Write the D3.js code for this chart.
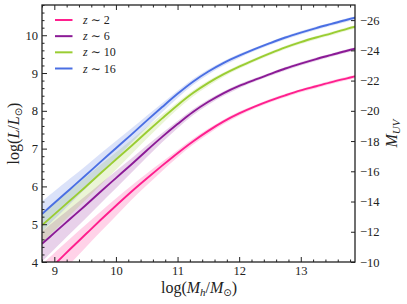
<!DOCTYPE html>
<html>
<head>
<meta charset="utf-8">
<script src="https://cdn.jsdelivr.net/npm/d3@7"></script>
<style>
  html, body { margin: 0; padding: 0; background: #fff; }
  svg { display: block; }
  text { font-family: "Liberation Serif", "DejaVu Serif", serif; fill: #222; }
</style>
</head>
<body>
<svg id="chart" width="407" height="304"></svg>
<script>
// ---- data ----
const logMh = [8.8, 9.0, 9.25, 9.5, 9.75, 10.0, 10.25, 10.5, 10.75, 11.0, 11.25, 11.5, 11.75, 12.0, 12.25, 12.5, 12.75, 13.0, 13.25, 13.5, 13.75, 13.9];
const lumZ2  = [3.61, 3.93, 4.33, 4.72, 5.11, 5.49, 5.86, 6.21, 6.55, 6.88, 7.19, 7.47, 7.72, 7.93, 8.11, 8.27, 8.41, 8.54, 8.65, 8.76, 8.86, 8.92];
const lumZ6  = [4.48, 4.77, 5.13, 5.49, 5.86, 6.22, 6.58, 6.95, 7.31, 7.65, 7.97, 8.24, 8.47, 8.66, 8.82, 8.97, 9.12, 9.25, 9.37, 9.48, 9.59, 9.65];
const lumZ10 = [4.97, 5.26, 5.62, 5.98, 6.35, 6.71, 7.07, 7.44, 7.80, 8.15, 8.47, 8.74, 8.97, 9.17, 9.35, 9.52, 9.68, 9.82, 9.94, 10.05, 10.17, 10.23];
const lumZ16 = [5.27, 5.56, 5.92, 6.28, 6.65, 7.01, 7.37, 7.74, 8.10, 8.45, 8.77, 9.04, 9.27, 9.46, 9.63, 9.79, 9.94, 10.07, 10.19, 10.30, 10.41, 10.47];
const spreadUp   = [0.33, 0.31, 0.28, 0.25, 0.22, 0.19, 0.16, 0.13, 0.10, 0.08, 0.07, 0.06, 0.05, 0.05, 0.04, 0.04, 0.04, 0.04, 0.04, 0.04, 0.04, 0.04];
const spreadDown = [0.46, 0.43, 0.39, 0.35, 0.31, 0.27, 0.22, 0.18, 0.14, 0.11, 0.09, 0.08, 0.07, 0.06, 0.05, 0.05, 0.05, 0.05, 0.05, 0.05, 0.05, 0.05];
const seriesNames = ["2", "6", "10", "16"];
const seriesColors = ["#ff1f8e", "#8b1a96", "#9acd32", "#4a6fe3"];
const xTicks = [9, 10, 11, 12, 13];
const yTicks = [4, 5, 6, 7, 8, 9, 10];
const magTicks = [-10, -12, -14, -16, -18, -20, -22, -24, -26];

const series = [lumZ2, lumZ6, lumZ10, lumZ16];

// ---- layout ----
const svg = d3.select("#chart");
const L = 42, R = 355, T = 5, B = 262;
const x = d3.scaleLinear().domain([8.8, 13.88]).range([L, R]);
const y = d3.scaleLinear().domain([4, 10.8]).range([B, T]);
const yMag = d3.scaleLinear().domain([-10, -27]).range([B, T]);

svg.append("defs").append("clipPath").attr("id", "clip")
  .append("rect").attr("x", L).attr("y", T).attr("width", R - L).attr("height", B - T);

const plot = svg.append("g").attr("clip-path", "url(#clip)");
const curve = d3.curveCatmullRom.alpha(0.5);

// bands
series.forEach((s, i) => {
  const area = d3.area()
    .x((d, j) => x(logMh[j]))
    .y0((d, j) => y(d - spreadDown[j]))
    .y1((d, j) => y(d + spreadUp[j]))
    .curve(curve);
  plot.append("path").datum(s).attr("d", area)
    .attr("fill", seriesColors[i]).attr("fill-opacity", 0.2).attr("stroke", "none");
});
// lines
series.forEach((s, i) => {
  const line = d3.line().x((d, j) => x(logMh[j])).y(d => y(d)).curve(curve);
  plot.append("path").datum(s).attr("d", line)
    .attr("fill", "none").attr("stroke", seriesColors[i]).attr("stroke-width", 1.9);
});

// ---- axes ----
const minorX = d3.range(8.8, 13.881, 0.2).filter(v => Math.abs(v - Math.round(v)) > 1e-6);
const minorY = d3.range(4, 10.801, 0.2).filter(v => Math.abs(v - Math.round(v)) > 1e-6);

function styleAxis(g) {
  g.select(".domain").remove();
  g.selectAll("line").attr("stroke", "#222").attr("stroke-width", 1);
}
function styleText(g) {
  g.selectAll("text").attr("font-size", 12.5).attr("font-family", "Liberation Serif").attr("fill", "#222");
}

// bottom
svg.append("g").attr("transform", `translate(0,${B})`)
  .call(d3.axisBottom(x).tickValues(xTicks).tickSizeInner(-5).tickSizeOuter(0).tickPadding(4).tickFormat(d3.format("d")))
  .call(styleAxis).call(styleText);
svg.append("g").attr("transform", `translate(0,${B})`)
  .call(d3.axisBottom(x).tickValues(minorX).tickSizeInner(-2.5).tickSizeOuter(0).tickFormat(""))
  .call(styleAxis);
// top
svg.append("g").attr("transform", `translate(0,${T})`)
  .call(d3.axisTop(x).tickValues(xTicks).tickSizeInner(-5).tickSizeOuter(0).tickFormat(""))
  .call(styleAxis);
svg.append("g").attr("transform", `translate(0,${T})`)
  .call(d3.axisTop(x).tickValues(minorX).tickSizeInner(-2.5).tickSizeOuter(0).tickFormat(""))
  .call(styleAxis);
// left
svg.append("g").attr("transform", `translate(${L},0)`)
  .call(d3.axisLeft(y).tickValues(yTicks).tickSizeInner(-5).tickSizeOuter(0).tickPadding(4).tickFormat(d3.format("d")))
  .call(styleAxis).call(styleText);
svg.append("g").attr("transform", `translate(${L},0)`)
  .call(d3.axisLeft(y).tickValues(minorY).tickSizeInner(-2.5).tickSizeOuter(0).tickFormat(""))
  .call(styleAxis);
// right (magnitudes)
svg.append("g").attr("transform", `translate(${R},0)`)
  .call(d3.axisRight(yMag).tickValues(magTicks).tickSizeInner(-4).tickSizeOuter(0).tickPadding(5)
    .tickFormat(d => "\u2212" + Math.abs(d)))
  .call(styleAxis).call(styleText);

// frame
svg.append("rect").attr("x", L).attr("y", T).attr("width", R - L).attr("height", B - T)
  .attr("fill", "none").attr("stroke", "#222").attr("stroke-width", 1.3);

// ---- axis labels ----
const xl = svg.append("text").attr("x", 199).attr("y", 293).attr("text-anchor", "middle").attr("font-size", 16);
xl.append("tspan").text("log(");
xl.append("tspan").attr("font-style", "italic").text("M");
xl.append("tspan").attr("font-style", "italic").attr("font-size", 11).attr("dy", 3).text("h");
xl.append("tspan").attr("dy", -3).text("/");
xl.append("tspan").attr("font-style", "italic").text("M");
xl.append("tspan").attr("font-size", 10).attr("font-family", "DejaVu Sans").attr("dy", 3).text("\u2299");
xl.append("tspan").attr("dy", -3).text(")");

const yl = svg.append("text").attr("transform", `translate(19,${(T + B) / 2}) rotate(-90)`)
  .attr("text-anchor", "middle").attr("font-size", 16);
yl.append("tspan").text("log(");
yl.append("tspan").attr("font-style", "italic").text("L");
yl.append("tspan").text("/");
yl.append("tspan").attr("font-style", "italic").text("L");
yl.append("tspan").attr("font-size", 10).attr("font-family", "DejaVu Sans").attr("dy", 3).text("\u2299");
yl.append("tspan").attr("dy", -3).text(")");

const rl = svg.append("text").attr("transform", `translate(397,${(T + B) / 2}) rotate(-90)`)
  .attr("text-anchor", "middle").attr("font-size", 16);
rl.append("tspan").attr("font-style", "italic").text("M");
rl.append("tspan").attr("font-style", "italic").attr("font-size", 11).attr("dy", 3).text("UV");

// ---- legend ----
const legendY = d3.scaleLinear().domain([0, 3]).range([20, 68.5]);
seriesNames.forEach((name, i) => {
  const yy = legendY(i);
  svg.append("line").attr("x1", 55).attr("x2", 72.5).attr("y1", yy).attr("y2", yy)
    .attr("stroke", seriesColors[i]).attr("stroke-width", 2);
  const t = svg.append("text").attr("x", 83).attr("y", yy + 4).attr("font-size", 12);
  t.append("tspan").attr("font-style", "italic").text("z");
  t.append("tspan").text(" \u223C " + name);
});
</script>
</body>
</html>
